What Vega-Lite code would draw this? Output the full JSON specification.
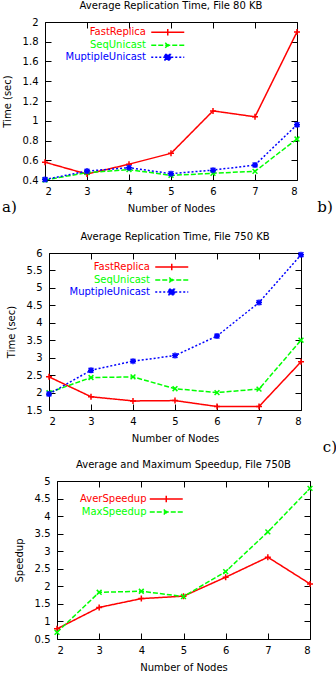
{
  "$schema": "https://vega.github.io/schema/vega-lite/v6.json",
  "padding": 0,
  "autosize": {"type": "pad"},
  "datasets": {
    "p1": [
      {"series": "FastReplica", "nodes": 2, "value": 0.58},
      {"series": "FastReplica", "nodes": 3, "value": 0.46},
      {"series": "FastReplica", "nodes": 4, "value": 0.56},
      {"series": "FastReplica", "nodes": 5, "value": 0.67},
      {"series": "FastReplica", "nodes": 6, "value": 1.10},
      {"series": "FastReplica", "nodes": 7, "value": 1.04},
      {"series": "FastReplica", "nodes": 8, "value": 1.90},
      {"series": "SeqUnicast", "nodes": 2, "value": 0.40},
      {"series": "SeqUnicast", "nodes": 3, "value": 0.475},
      {"series": "SeqUnicast", "nodes": 4, "value": 0.505},
      {"series": "SeqUnicast", "nodes": 5, "value": 0.447},
      {"series": "SeqUnicast", "nodes": 6, "value": 0.468},
      {"series": "SeqUnicast", "nodes": 7, "value": 0.488},
      {"series": "SeqUnicast", "nodes": 8, "value": 0.815},
      {"series": "MuptipleUnicast", "nodes": 2, "value": 0.405},
      {"series": "MuptipleUnicast", "nodes": 3, "value": 0.49},
      {"series": "MuptipleUnicast", "nodes": 4, "value": 0.525},
      {"series": "MuptipleUnicast", "nodes": 5, "value": 0.464},
      {"series": "MuptipleUnicast", "nodes": 6, "value": 0.50},
      {"series": "MuptipleUnicast", "nodes": 7, "value": 0.552},
      {"series": "MuptipleUnicast", "nodes": 8, "value": 0.96}
    ],
    "p2": [
      {"series": "FastReplica", "nodes": 2, "value": 2.45},
      {"series": "FastReplica", "nodes": 3, "value": 1.88},
      {"series": "FastReplica", "nodes": 4, "value": 1.76},
      {"series": "FastReplica", "nodes": 5, "value": 1.77},
      {"series": "FastReplica", "nodes": 6, "value": 1.60},
      {"series": "FastReplica", "nodes": 7, "value": 1.60},
      {"series": "FastReplica", "nodes": 8, "value": 2.88},
      {"series": "SeqUnicast", "nodes": 2, "value": 2.00},
      {"series": "SeqUnicast", "nodes": 3, "value": 2.43},
      {"series": "SeqUnicast", "nodes": 4, "value": 2.45},
      {"series": "SeqUnicast", "nodes": 5, "value": 2.11},
      {"series": "SeqUnicast", "nodes": 6, "value": 2.00},
      {"series": "SeqUnicast", "nodes": 7, "value": 2.10},
      {"series": "SeqUnicast", "nodes": 8, "value": 3.50},
      {"series": "MuptipleUnicast", "nodes": 2, "value": 1.96},
      {"series": "MuptipleUnicast", "nodes": 3, "value": 2.64},
      {"series": "MuptipleUnicast", "nodes": 4, "value": 2.90},
      {"series": "MuptipleUnicast", "nodes": 5, "value": 3.06},
      {"series": "MuptipleUnicast", "nodes": 6, "value": 3.62},
      {"series": "MuptipleUnicast", "nodes": 7, "value": 4.58},
      {"series": "MuptipleUnicast", "nodes": 8, "value": 5.95}
    ],
    "p3": [
      {"series": "AverSpeedup", "nodes": 2, "value": 0.79},
      {"series": "AverSpeedup", "nodes": 3, "value": 1.40},
      {"series": "AverSpeedup", "nodes": 4, "value": 1.65},
      {"series": "AverSpeedup", "nodes": 5, "value": 1.72},
      {"series": "AverSpeedup", "nodes": 6, "value": 2.26},
      {"series": "AverSpeedup", "nodes": 7, "value": 2.83},
      {"series": "AverSpeedup", "nodes": 8, "value": 2.07},
      {"series": "MaxSpeedup", "nodes": 2, "value": 0.69},
      {"series": "MaxSpeedup", "nodes": 3, "value": 1.83},
      {"series": "MaxSpeedup", "nodes": 4, "value": 1.86},
      {"series": "MaxSpeedup", "nodes": 5, "value": 1.71},
      {"series": "MaxSpeedup", "nodes": 6, "value": 2.42},
      {"series": "MaxSpeedup", "nodes": 7, "value": 3.55},
      {"series": "MaxSpeedup", "nodes": 8, "value": 4.79}
    ],
    "lab1": [
      {"label": "a)", "nodes": 1.155, "value": 0.081},
      {"label": "b)", "nodes": 8.667, "value": 0.081}
    ],
    "lab2": [
      {"label": "c)", "nodes": 8.69, "value": 0.297}
    ]
  },
  "concat": [
    {
      "concat": [
        {"width": 1, "height": 1, "view": {"stroke": null}, "data": {"values": []}, "mark": "point", "encoding": {}},
        {
          "width": 252, "height": 158,
          "title": {"text": "Average Replication Time, File 80 KB"},
          "data": {"name": "p1"},
          "layer": [
            {
              "mark": {"type": "line", "strokeWidth": 1.5},
              "encoding": {
                "x": {"field": "nodes", "type": "quantitative", "scale": {"domain": [2, 8], "nice": false, "zero": false},
                      "axis": {"orient": "bottom", "values": [2, 3, 4, 5, 6, 7, 8], "title": "Number of Nodes"}},
                "y": {"field": "value", "type": "quantitative", "scale": {"domain": [0.4, 2], "nice": false, "zero": false},
                      "axis": {"orient": "left", "values": [0.4, 0.6, 0.8, 1, 1.2, 1.4, 1.6, 1.8, 2], "format": "~g", "title": "Time (sec)"}},
                "color": {"field": "series", "type": "nominal", "scale": {"domain": ["FastReplica", "SeqUnicast", "MuptipleUnicast"], "range": ["#ff0000", "#00ff00", "#0000ff"]},
                  "legend": {
                    "orient": "none", "legendX": 116.75, "legendY": 4.25, "title": null, "padding": 0,
                    "symbolSize": 100, "symbolStrokeWidth": 1.5, "labelAlign": "right", "labelOffset": -27.75, "rowPadding": -1.5,
                    "encode": {
                      "symbols": {"update": {
                        "shape": {"signal": "datum.value === 'FastReplica' ? 'M-3.3,0H3.3M0,-0.66V0.66' : datum.value === 'SeqUnicast' ? 'M-3.3,0H3.3M-0.5,-0.5L0.5,0.5M-0.5,0.5L0.5,-0.5' : 'M-3.3,0H3.3M-0.56,-0.56H0.56V0.56H-0.56Z'"},
                        "size": {"value": 100},
                        "strokeWidth": {"value": 1.5},
                        "strokeDash": {"signal": "datum.value === 'FastReplica' ? [1,0] : datum.value === 'SeqUnicast' ? [5,2] : [2,2]"},
                        "fill": {"signal": "datum.value === 'FastReplica' ? '#ff0000' : datum.value === 'SeqUnicast' ? '#00ff00' : '#0000ff'"},
                        "stroke": {"signal": "datum.value === 'FastReplica' ? '#ff0000' : datum.value === 'SeqUnicast' ? '#00ff00' : '#0000ff'"},
                        "opacity": {"value": 1}
                      }},
                      "labels": {"update": {
                        "fill": {"signal": "datum.value === 'FastReplica' ? '#ff0000' : datum.value === 'SeqUnicast' ? '#00ff00' : '#0000ff'"}
                      }}
                    }
                  }
                },
                "strokeDash": {"field": "series", "type": "nominal", "scale": {"domain": ["FastReplica", "SeqUnicast", "MuptipleUnicast"], "range": [[1, 0], [5, 2], [2, 2]]}}
              }
            },
            {
              "transform": [{"filter": "datum.series === 'FastReplica'"}],
              "mark": {"type": "point", "shape": "M-1,0H1M0,-1V1", "filled": false, "color": "#ff0000", "opacity": 1, "size": 36, "strokeWidth": 1.5},
              "encoding": {
                "x": {"field": "nodes", "type": "quantitative", "axis": {"orient": "top", "values": [2, 3, 4, 5, 6, 7, 8], "labels": false, "title": null}},
                "y": {"field": "value", "type": "quantitative", "axis": {"orient": "right", "values": [0.4, 0.6, 0.8, 1, 1.2, 1.4, 1.6, 1.8, 2], "labels": false, "title": null}}
              }
            },
            {
              "transform": [{"filter": "datum.series === 'SeqUnicast'"}],
              "mark": {"type": "point", "shape": "M-0.8,-0.8L0.8,0.8M-0.8,0.8L0.8,-0.8", "filled": false, "color": "#00ff00", "opacity": 1, "size": 36, "strokeWidth": 1.5},
              "encoding": {
                "x": {"field": "nodes", "type": "quantitative", "axis": null},
                "y": {"field": "value", "type": "quantitative", "axis": null}
              }
            },
            {
              "transform": [{"filter": "datum.series === 'MuptipleUnicast'"}],
              "mark": {"type": "point", "shape": "M-1,0H1M0,-1V1M-0.8,-0.8L0.8,0.8M-0.8,0.8L0.8,-0.8", "filled": false, "color": "#0000ff", "opacity": 1, "size": 36, "strokeWidth": 1.5},
              "encoding": {
                "x": {"field": "nodes", "type": "quantitative", "axis": null},
                "y": {"field": "value", "type": "quantitative", "axis": null}
              }
            },
            {
              "data": {"name": "lab1"},
              "mark": {"type": "text", "font": "DejaVu Serif", "fontSize": 15, "align": "center", "baseline": "alphabetic", "color": "#000000"},
              "encoding": {
                "x": {"field": "nodes", "type": "quantitative", "axis": null},
                "y": {"field": "value", "type": "quantitative", "axis": null},
                "text": {"field": "label"}
              }
            }
          ]
        }
      ],
      "columns": 2,
      "spacing": 0,
      "align": "none",
      "resolve": {"scale": {"color": "independent", "strokeDash": "independent"}, "legend": {"color": "independent", "strokeDash": "independent"}}
    },
    {
      "concat": [
        {
          "concat": [
            {"width": 5, "height": 1, "view": {"stroke": null}, "data": {"values": []}, "mark": "point", "encoding": {}},
            {
              "width": 252, "height": 157,
              "title": {"text": "Average Replication Time, File 750 KB"},
              "data": {"name": "p2"},
              "layer": [
                {
                  "mark": {"type": "line", "strokeWidth": 1.5},
                  "encoding": {
                    "x": {"field": "nodes", "type": "quantitative", "scale": {"domain": [2, 8], "nice": false, "zero": false},
                          "axis": {"orient": "bottom", "values": [2, 3, 4, 5, 6, 7, 8], "title": "Number of Nodes"}},
                    "y": {"field": "value", "type": "quantitative", "scale": {"domain": [1.5, 6], "nice": false, "zero": false},
                          "axis": {"orient": "left", "values": [1.5, 2, 2.5, 3, 3.5, 4, 4.5, 5, 5.5, 6], "format": "~g", "title": "Time (sec)"}},
                    "color": {"field": "series", "type": "nominal", "scale": {"domain": ["FastReplica", "SeqUnicast", "MuptipleUnicast"], "range": ["#ff0000", "#00ff00", "#0000ff"]},
                      "legend": {
                        "orient": "none", "legendX": 116.75, "legendY": 8, "title": null, "padding": 0,
                        "symbolSize": 100, "symbolStrokeWidth": 1.5, "labelAlign": "right", "labelOffset": -27.75, "rowPadding": -1.5,
                        "encode": {
                          "symbols": {"update": {
                            "shape": {"signal": "datum.value === 'FastReplica' ? 'M-3.3,0H3.3M0,-0.66V0.66' : datum.value === 'SeqUnicast' ? 'M-3.3,0H3.3M-0.5,-0.5L0.5,0.5M-0.5,0.5L0.5,-0.5' : 'M-3.3,0H3.3M-0.56,-0.56H0.56V0.56H-0.56Z'"},
                            "size": {"value": 100},
                            "strokeWidth": {"value": 1.5},
                            "strokeDash": {"signal": "datum.value === 'FastReplica' ? [1,0] : datum.value === 'SeqUnicast' ? [5,2] : [2,2]"},
                            "fill": {"signal": "datum.value === 'FastReplica' ? '#ff0000' : datum.value === 'SeqUnicast' ? '#00ff00' : '#0000ff'"},
                            "stroke": {"signal": "datum.value === 'FastReplica' ? '#ff0000' : datum.value === 'SeqUnicast' ? '#00ff00' : '#0000ff'"},
                            "opacity": {"value": 1}
                          }},
                          "labels": {"update": {
                            "fill": {"signal": "datum.value === 'FastReplica' ? '#ff0000' : datum.value === 'SeqUnicast' ? '#00ff00' : '#0000ff'"}
                          }}
                        }
                      }
                    },
                    "strokeDash": {"field": "series", "type": "nominal", "scale": {"domain": ["FastReplica", "SeqUnicast", "MuptipleUnicast"], "range": [[1, 0], [5, 2], [2, 2]]}}
                  }
                },
                {
                  "transform": [{"filter": "datum.series === 'FastReplica'"}],
                  "mark": {"type": "point", "shape": "M-1,0H1M0,-1V1", "filled": false, "color": "#ff0000", "opacity": 1, "size": 36, "strokeWidth": 1.5},
                  "encoding": {
                    "x": {"field": "nodes", "type": "quantitative", "axis": {"orient": "top", "values": [2, 3, 4, 5, 6, 7, 8], "labels": false, "title": null}},
                    "y": {"field": "value", "type": "quantitative", "axis": {"orient": "right", "values": [1.5, 2, 2.5, 3, 3.5, 4, 4.5, 5, 5.5, 6], "labels": false, "title": null}}
                  }
                },
                {
                  "transform": [{"filter": "datum.series === 'SeqUnicast'"}],
                  "mark": {"type": "point", "shape": "M-0.8,-0.8L0.8,0.8M-0.8,0.8L0.8,-0.8", "filled": false, "color": "#00ff00", "opacity": 1, "size": 36, "strokeWidth": 1.5},
                  "encoding": {
                    "x": {"field": "nodes", "type": "quantitative", "axis": null},
                    "y": {"field": "value", "type": "quantitative", "axis": null}
                  }
                },
                {
                  "transform": [{"filter": "datum.series === 'MuptipleUnicast'"}],
                  "mark": {"type": "point", "shape": "M-1,0H1M0,-1V1M-0.8,-0.8L0.8,0.8M-0.8,0.8L0.8,-0.8", "filled": false, "color": "#0000ff", "opacity": 1, "size": 36, "strokeWidth": 1.5},
                  "encoding": {
                    "x": {"field": "nodes", "type": "quantitative", "axis": null},
                    "y": {"field": "value", "type": "quantitative", "axis": null}
                  }
                },
                {
                  "data": {"name": "lab2"},
                  "mark": {"type": "text", "font": "DejaVu Serif", "fontSize": 15, "align": "center", "baseline": "alphabetic", "color": "#000000"},
                  "encoding": {
                    "x": {"field": "nodes", "type": "quantitative", "axis": null},
                    "y": {"field": "value", "type": "quantitative", "axis": null},
                    "text": {"field": "label"}
                  }
                }
              ]
            }
          ],
          "columns": 2,
          "spacing": 0,
          "align": "none",
          "resolve": {"scale": {"color": "independent", "strokeDash": "independent"}, "legend": {"color": "independent", "strokeDash": "independent"}}
        },
        {
          "concat": [
            {"width": 13, "height": 1, "view": {"stroke": null}, "data": {"values": []}, "mark": "point", "encoding": {}},
            {
              "width": 253, "height": 158,
              "title": {"text": "Average and Maximum Speedup, File 750B"},
              "data": {"name": "p3"},
              "layer": [
                {
                  "mark": {"type": "line", "strokeWidth": 1.5},
                  "encoding": {
                    "x": {"field": "nodes", "type": "quantitative", "scale": {"domain": [2, 8], "nice": false, "zero": false},
                          "axis": {"orient": "bottom", "values": [2, 3, 4, 5, 6, 7, 8], "title": "Number of Nodes"}},
                    "y": {"field": "value", "type": "quantitative", "scale": {"domain": [0.5, 5], "nice": false, "zero": false},
                          "axis": {"orient": "left", "values": [0.5, 1, 1.5, 2, 2.5, 3, 3.5, 4, 4.5, 5], "format": "~g", "title": "Speedup"}},
                    "color": {"field": "series", "type": "nominal", "scale": {"domain": ["AverSpeedup", "MaxSpeedup"], "range": ["#ff0000", "#00ff00"]},
                      "legend": {
                        "orient": "none", "legendX": 103.25, "legendY": 12, "title": null, "padding": 0,
                        "symbolSize": 100, "symbolStrokeWidth": 1.5, "labelAlign": "right", "labelOffset": -25.75, "rowPadding": -1.5,
                        "encode": {
                          "symbols": {"update": {
                            "shape": {"signal": "datum.value === 'AverSpeedup' ? 'M-3.3,0H3.3M0,-0.66V0.66' : 'M-3.3,0H3.3M-0.5,-0.5L0.5,0.5M-0.5,0.5L0.5,-0.5'"},
                            "size": {"value": 100},
                            "strokeWidth": {"value": 1.5},
                            "strokeDash": {"signal": "datum.value === 'AverSpeedup' ? [1,0] : [5,2]"},
                            "fill": {"signal": "datum.value === 'AverSpeedup' ? '#ff0000' : '#00ff00'"},
                            "stroke": {"signal": "datum.value === 'AverSpeedup' ? '#ff0000' : '#00ff00'"},
                            "opacity": {"value": 1}
                          }},
                          "labels": {"update": {
                            "fill": {"signal": "datum.value === 'AverSpeedup' ? '#ff0000' : '#00ff00'"}
                          }}
                        }
                      }
                    },
                    "strokeDash": {"field": "series", "type": "nominal", "scale": {"domain": ["AverSpeedup", "MaxSpeedup"], "range": [[1, 0], [5, 2]]}}
                  }
                },
                {
                  "transform": [{"filter": "datum.series === 'AverSpeedup'"}],
                  "mark": {"type": "point", "shape": "M-1,0H1M0,-1V1", "filled": false, "color": "#ff0000", "opacity": 1, "size": 36, "strokeWidth": 1.5},
                  "encoding": {
                    "x": {"field": "nodes", "type": "quantitative", "axis": {"orient": "top", "values": [2, 3, 4, 5, 6, 7, 8], "labels": false, "title": null}},
                    "y": {"field": "value", "type": "quantitative", "axis": {"orient": "right", "values": [0.5, 1, 1.5, 2, 2.5, 3, 3.5, 4, 4.5, 5], "labels": false, "title": null}}
                  }
                },
                {
                  "transform": [{"filter": "datum.series === 'MaxSpeedup'"}],
                  "mark": {"type": "point", "shape": "M-0.8,-0.8L0.8,0.8M-0.8,0.8L0.8,-0.8", "filled": false, "color": "#00ff00", "opacity": 1, "size": 36, "strokeWidth": 1.5},
                  "encoding": {
                    "x": {"field": "nodes", "type": "quantitative", "axis": null},
                    "y": {"field": "value", "type": "quantitative", "axis": null}
                  }
                }
              ]
            }
          ],
          "columns": 2,
          "spacing": 0,
          "align": "none",
          "resolve": {"scale": {"color": "independent", "strokeDash": "independent"}, "legend": {"color": "independent", "strokeDash": "independent"}}
        }
      ],
      "columns": 1,
      "spacing": 3,
      "align": "none",
      "resolve": {"scale": {"color": "independent", "strokeDash": "independent"}, "legend": {"color": "independent", "strokeDash": "independent"}}
    }
  ],
  "columns": 1,
  "spacing": 15,
  "align": "none",
  "resolve": {"scale": {"color": "independent", "strokeDash": "independent"}, "legend": {"color": "independent", "strokeDash": "independent"}},
  "config": {
    "font": "DejaVu Sans",
    "view": {"stroke": "#000000", "strokeWidth": 1},
    "axis": {"grid": false, "domain": false, "ticks": true, "tickSize": -6, "tickColor": "#000000", "tickWidth": 1,
             "labelFont": "DejaVu Sans", "labelFontSize": 10, "labelColor": "#000000", "labelPadding": 12,
             "titleFont": "DejaVu Sans", "titleFontSize": 10, "titleFontWeight": "normal", "titleColor": "#000000"},
    "axisX": {"titlePadding": 7, "labelPadding": 12},
    "axisY": {"titlePadding": 10, "labelPadding": 13},
    "title": {"font": "DejaVu Sans", "fontSize": 10, "fontWeight": "normal", "color": "#000000", "anchor": "middle", "frame": "group", "offset": 6},
    "legend": {"labelFont": "DejaVu Sans", "labelFontSize": 10}
  }
}
